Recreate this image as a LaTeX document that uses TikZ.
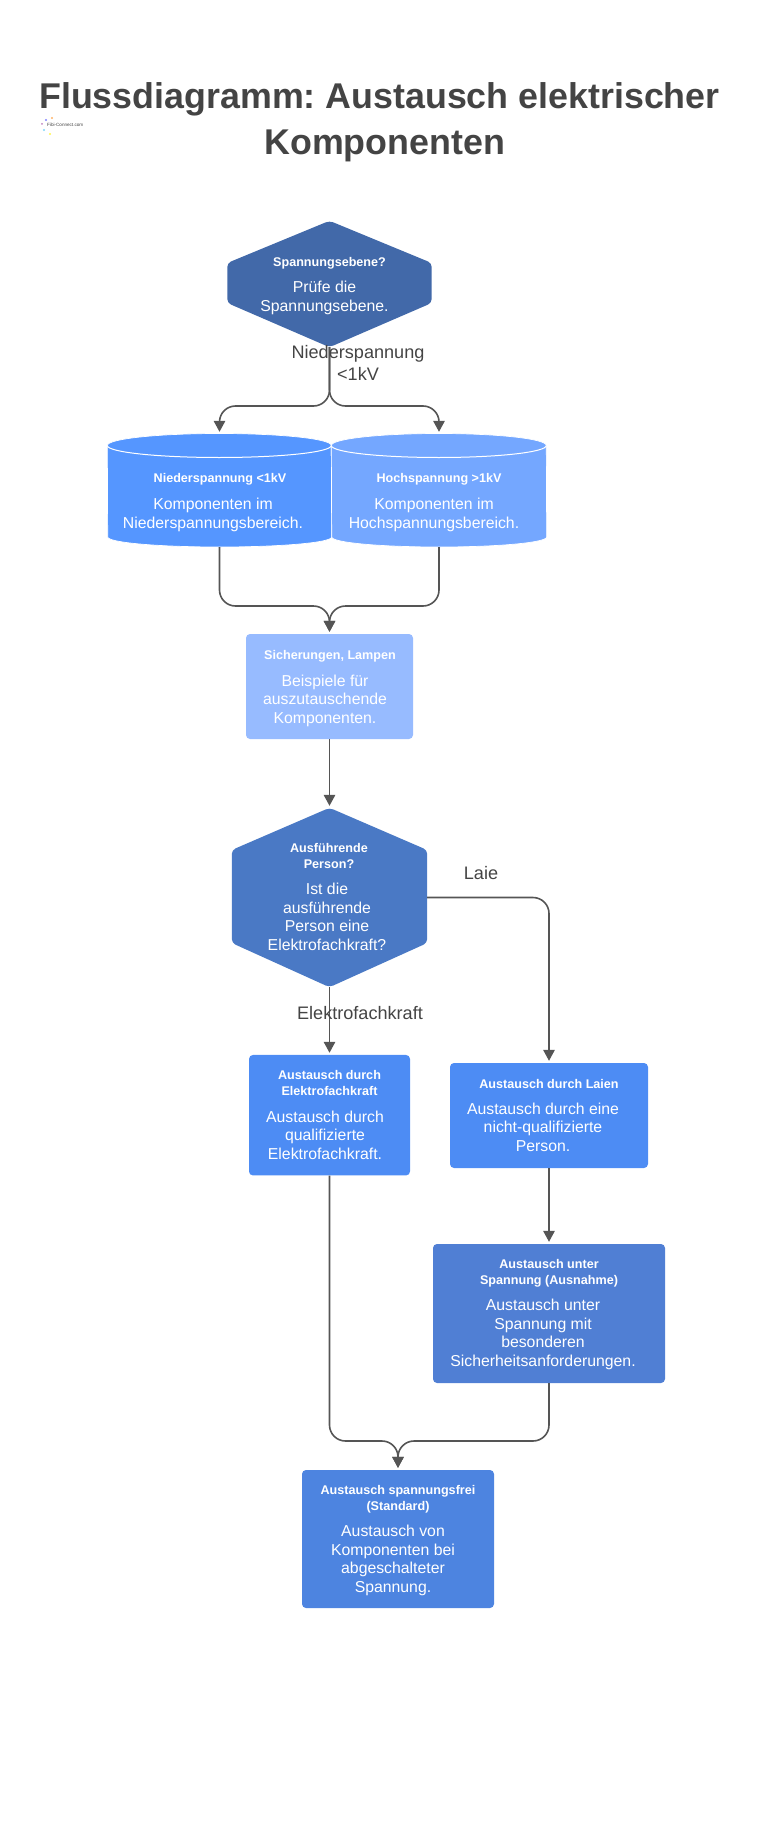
\documentclass[tikz,border=0pt]{standalone}
\usepackage{fontspec}
\setmainfont{Liberation Sans}
\usetikzlibrary{arrows.meta}
\frenchspacing

\definecolor{inkgrey}{HTML}{444444}
\definecolor{lineg}{HTML}{555555}
\definecolor{hexa}{HTML}{4269A9}
\definecolor{hexb}{HTML}{4A79C5}
\definecolor{cyla}{HTML}{5596FF}
\definecolor{cylb}{HTML}{74A7FF}
\definecolor{boxlight}{HTML}{97BBFF}
\definecolor{boxa}{HTML}{4D8CF4}
\definecolor{boxc}{HTML}{507FD4}
\definecolor{boxd}{HTML}{4D84E0}

\tikzset{
    flow/.style={-{Triangle[length=11pt,width=11.5pt]},line width=1.6pt,lineg,rounded corners=16pt,shorten >=2pt},
    plate/.style={rectangle,rounded corners=4pt,inner sep=0pt},
    blank/.style={rectangle,inner sep=0pt},
    headtext/.style={anchor=base,align=center,white,inner sep=0pt,font=\bfseries\fontsize{12.6}{15.2}\selectfont},
    bodytext/.style={anchor=base,align=center,white,inner sep=0pt,font=\fontsize{15.8}{18.4}\selectfont},
    edgetext/.style={anchor=base,align=center,inkgrey,inner sep=0pt,font=\fontsize{18.1}{21.5}\selectfont},
    titletext/.style={anchor=base,inkgrey,inner sep=0pt,font=\bfseries\fontsize{35.8}{46}\selectfont},
    logotext/.style={anchor=base west,inkgrey,inner sep=0pt,font=\fontsize{4.6}{5}\selectfont}
}

% node name, colour: a drum over the blank node of that name
\newcommand{\drumfill}[2]{
    \path (#1.west) ++(0,-45) coordinate (#1tl);
    \path (#1.east) ++(0,46.5) coordinate (#1br);
    \filldraw[fill=#2,draw=white,line width=0.7pt] (#1tl) arc[start angle=180,end angle=0,x radius=0.5*\drumwd,y radius=12pt]
        -- (#1br) arc[start angle=0,end angle=-180,x radius=0.5*\drumwd,y radius=10pt] -- cycle;
    \draw[white,line width=1pt] (#1tl) arc[start angle=180,end angle=360,x radius=0.5*\drumwd,y radius=12pt];
}

\begin{document}
\begin{tikzpicture}[x=1pt,y=-1pt]
    \useasboundingbox (0,0) rectangle (769,1835);

    % heading
    \node[titletext] (headone) at (379.5,109) {Flussdiagramm: Austausch elektrischer};
    \node[titletext] (headtwo) at (384.6,155) {Komponenten};

    % logo
    \fill[blue!50] (46,120) circle (1.2pt);
    \fill[orange!60] (52,118) circle (1.1pt);
    \fill[cyan!50] (44,130) circle (1.2pt);
    \fill[yellow!70] (50,134) circle (1.2pt);
    \fill[violet!50] (42,124) circle (1pt);
    \node[logotext] (logoname) at (47,127) {Fibi-Connect.com};

    % shapes
    \node[blank,minimum width=204pt,minimum height=126pt] (hexvolt) at (329.5,284) {};
    \fill[hexa,rounded corners=4pt] (hexvolt.north) -- (hexvolt.north east |- 0,263) -- (hexvolt.north east |- 0,303)
        -- (hexvolt.south) -- (hexvolt.north west |- 0,303) -- (hexvolt.north west |- 0,263) -- cycle;

    \def\drumwd{224pt}
    \node[blank,minimum width=224pt,minimum height=113pt] (cyllow) at (219.5,490.5) {};
    \drumfill{cyllow}{cyla}
    \def\drumwd{215pt}
    \node[blank,minimum width=215pt,minimum height=113pt] (cylhigh) at (439,490.5) {};
    \drumfill{cylhigh}{cylb}

    \node[plate,fill=boxlight,minimum width=167pt,minimum height=105pt] (parts) at (329.5,686.5) {};

    \node[blank,minimum width=195pt,minimum height=179pt] (hexwho) at (329.5,897.5) {};
    \fill[hexb,rounded corners=4pt] (hexwho.north) -- (hexwho.north east |- 0,850) -- (hexwho.north east |- 0,943)
        -- (hexwho.south) -- (hexwho.north west |- 0,943) -- (hexwho.north west |- 0,850) -- cycle;

    \node[plate,fill=boxa,minimum width=161pt,minimum height=120.5pt] (skilled) at (329.5,1115.2) {};
    \node[plate,fill=boxa,minimum width=198pt,minimum height=105pt] (layman) at (549,1115.5) {};
    \node[plate,fill=boxc,minimum width=232pt,minimum height=139pt] (live) at (549,1313.5) {};
    \node[plate,fill=boxd,minimum width=192pt,minimum height=138pt] (dead) at (398,1539) {};

    % connectors
    \coordinate (forktop) at (329.5,406);
    \coordinate (forkmid) at (329.5,606);
    \coordinate (forkend) at (398,1441);
    \draw[flow] (hexvolt.south) -- (forktop) -| (cyllow.north);
    \draw[flow] (hexvolt.south) -- (forktop) -| (cylhigh.north);
    \draw[flow] (cyllow.south) |- (forkmid) -- (parts.north);
    \draw[flow] (cylhigh.south) |- (forkmid) -- (parts.north);
    \draw[flow] (parts.south) -- (hexwho.north);
    \draw[flow] (hexwho.south) -- (skilled.north);
    \draw[flow] (hexwho.east) -| (layman.north);
    \draw[flow] (layman.south) -- (live.north);
    \draw[flow] (skilled.south) |- (forkend) -- (dead.north);
    \draw[flow] (live.south) |- (forkend) -- (dead.north);

    % edge labels
    \node[edgetext] (lblvolt) at (358,380) {Niederspannung\\<1kV};
    \node[edgetext] (lblskilled) at (360,1019) {Elektrofachkraft};
    \node[edgetext] (lbllay) at (481,879) {Laie};

    % box texts
    \node[headtext] (hexvolthead) at (329.5,266) {Spannungsebene?};
    \node[bodytext] (hexvoltbody) at (324.5,311) {Prüfe die\\Spannungsebene.};
    \node[headtext] (cyllowhead) at (220,482) {Niederspannung <1kV};
    \node[bodytext] (cyllowbody) at (213,528) {Komponenten im\\Niederspannungsbereich.};
    \node[headtext] (cylhighhead) at (439,482) {Hochspannung >1kV};
    \node[bodytext] (cylhighbody) at (434,528) {Komponenten im\\Hochspannungsbereich.};
    \node[headtext] (partshead) at (330,659) {Sicherungen, Lampen};
    \node[bodytext] (partsbody) at (325,723) {Beispiele für\\auszutauschende\\Komponenten.};
    \node[headtext] (hexwhohead) at (329,868) {Ausführende\\Person?};
    \node[bodytext] (hexwhobody) at (327,950) {Ist die\\ausführende\\Person eine\\Elektrofachkraft?};
    \node[headtext] (skilledhead) at (329.5,1095) {Austausch durch\\Elektrofachkraft};
    \node[bodytext] (skilledbody) at (325,1159) {Austausch durch\\qualifizierte\\Elektrofachkraft.};
    \node[headtext] (layhead) at (549,1088) {Austausch durch Laien};
    \node[bodytext] (laybody) at (543,1151) {Austausch durch eine\\nicht-qualifizierte\\Person.};
    \node[headtext] (livehead) at (549,1284) {Austausch unter\\Spannung (Ausnahme)};
    \node[bodytext] (livebody) at (543,1366) {Austausch unter\\Spannung mit\\besonderen\\Sicherheitsanforderungen.};
    \node[headtext] (deadhead) at (398,1510) {Austausch spannungsfrei\\(Standard)};
    \node[bodytext] (deadbody) at (393,1592) {Austausch von\\Komponenten bei\\abgeschalteter\\Spannung.};
\end{tikzpicture}
\end{document}
